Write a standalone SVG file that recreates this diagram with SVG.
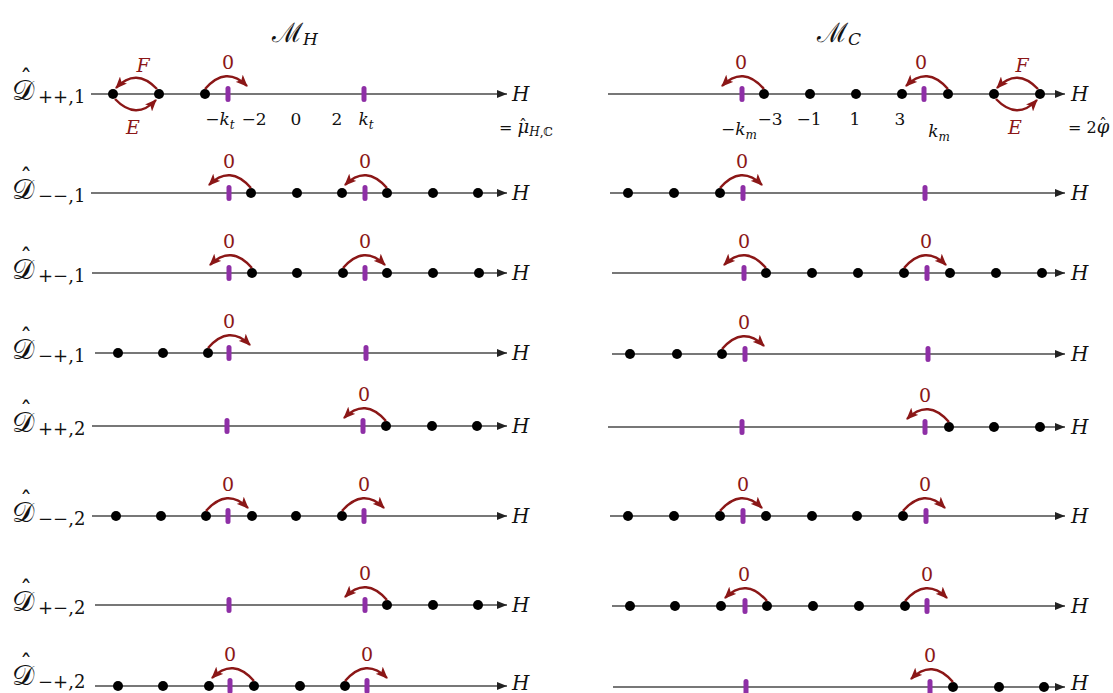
<svg xmlns="http://www.w3.org/2000/svg" width="1113" height="693" viewBox="0 0 1113 693">
<defs>
<marker id="ah" markerUnits="userSpaceOnUse" markerWidth="11" markerHeight="9" refX="10" refY="4" orient="auto"><path d="M0,0 L10,4 L0,8 z" fill="#222"/></marker>
<marker id="rh" markerUnits="userSpaceOnUse" markerWidth="13" markerHeight="10" refX="11" refY="5" orient="auto"><path d="M0,0 L12,5 L0,10 L3,5 z" fill="#8b1717"/></marker>
</defs>
<style>
.ax{stroke:#4a4a4a;stroke-width:1.4;fill:none;marker-end:url(#ah)}
.dot{fill:#000}
.tk{stroke:#8e2fa6;stroke-width:5;stroke-linecap:round}
.arc{fill:none;stroke:#8b1717;stroke-width:2.4;marker-end:url(#rh)}
text{font-family:"DejaVu Serif","Liberation Serif",serif}
.z{font-size:19px;fill:#8b1717;text-anchor:middle}
.lab{font-size:17px;fill:#111;text-anchor:middle}
.h{font-size:20px;font-style:italic;fill:#111}
.ef{font-size:19px;font-style:italic;fill:#8b1717;text-anchor:middle}
.dd{font-size:28px;fill:#111}
.hat{font-size:24px;fill:#111;text-anchor:middle}
.sub{font-size:18px;fill:#111}
.ttl{font-size:27px;fill:#111}
.it{font-style:italic}
.sm{font-size:12px}
</style>

<g id="titles">
<text class="ttl" x="272" y="42">ℳ<tspan class="it" font-size="17" dy="3">H</tspan></text>
<text class="ttl" x="817" y="42">ℳ<tspan class="it" font-size="17" dy="3">C</tspan></text>
</g>

<g id="row-labels">
<g id="lab-pp1"><text class="dd" x="12" y="100">𝒟</text><text class="hat" x="26" y="87">ˆ</text><text class="sub" x="38" y="103">++,1</text></g>
<g id="lab-mm1"><text class="dd" x="12" y="199">𝒟</text><text class="hat" x="26" y="186">ˆ</text><text class="sub" x="38" y="202">−−,1</text></g>
<g id="lab-pm1"><text class="dd" x="12" y="279">𝒟</text><text class="hat" x="26" y="266">ˆ</text><text class="sub" x="38" y="282">+−,1</text></g>
<g id="lab-mp1"><text class="dd" x="12" y="359">𝒟</text><text class="hat" x="26" y="346">ˆ</text><text class="sub" x="38" y="362">−+,1</text></g>
<g id="lab-pp2"><text class="dd" x="12" y="432">𝒟</text><text class="hat" x="26" y="419">ˆ</text><text class="sub" x="38" y="435">++,2</text></g>
<g id="lab-mm2"><text class="dd" x="12" y="522">𝒟</text><text class="hat" x="26" y="509">ˆ</text><text class="sub" x="38" y="525">−−,2</text></g>
<g id="lab-pm2"><text class="dd" x="12" y="611">𝒟</text><text class="hat" x="26" y="598">ˆ</text><text class="sub" x="38" y="614">+−,2</text></g>
<g id="lab-mp2"><text class="dd" x="12" y="685">𝒟</text><text class="hat" x="26" y="672">ˆ</text><text class="sub" x="38" y="688">−+,2</text></g>
</g>

<g id="axes">
<line class="ax" x1="91" y1="94" x2="507" y2="94"/>
<line class="ax" x1="91" y1="193" x2="507" y2="193"/>
<line class="ax" x1="92" y1="273" x2="507" y2="273"/>
<line class="ax" x1="95" y1="353" x2="507" y2="353"/>
<line class="ax" x1="92" y1="426" x2="507" y2="426"/>
<line class="ax" x1="92" y1="516" x2="507" y2="516"/>
<line class="ax" x1="95" y1="605" x2="507" y2="605"/>
<line class="ax" x1="95" y1="686" x2="507" y2="686"/>
<line class="ax" x1="608" y1="94" x2="1065" y2="94"/>
<line class="ax" x1="610" y1="193" x2="1065" y2="193"/>
<line class="ax" x1="612" y1="273" x2="1065" y2="273"/>
<line class="ax" x1="612" y1="354" x2="1065" y2="354"/>
<line class="ax" x1="608" y1="427" x2="1065" y2="427"/>
<line class="ax" x1="610" y1="516" x2="1065" y2="516"/>
<line class="ax" x1="612" y1="606" x2="1065" y2="606"/>
<line class="ax" x1="613" y1="687" x2="1065" y2="687"/>
</g>

<g id="axis-labels">
<text class="h" x="512" y="101">H</text>
<text class="h" x="512" y="200">H</text>
<text class="h" x="512" y="280">H</text>
<text class="h" x="512" y="360">H</text>
<text class="h" x="512" y="433">H</text>
<text class="h" x="512" y="523">H</text>
<text class="h" x="512" y="612">H</text>
<text class="h" x="512" y="690">H</text>
<text class="h" x="1071" y="101">H</text>
<text class="h" x="1071" y="200">H</text>
<text class="h" x="1071" y="280">H</text>
<text class="h" x="1071" y="361">H</text>
<text class="h" x="1071" y="434">H</text>
<text class="h" x="1071" y="523">H</text>
<text class="h" x="1071" y="613">H</text>
<text class="h" x="1071" y="690">H</text>
<text font-size="16" fill="#111" x="499" y="133">= <tspan font-style="italic" font-size="18">μ</tspan><tspan font-style="italic" font-size="12" dy="3">H</tspan><tspan font-size="12">,ℂ</tspan></text>
<text font-size="16" fill="#111" x="523" y="131" text-anchor="middle">ˆ</text>
<text font-size="16" fill="#111" x="1068" y="133">= 2<tspan font-style="italic" font-size="18">φ</tspan></text>
<text font-size="16" fill="#111" x="1103" y="130" text-anchor="middle">ˆ</text>
</g>

<g id="tick-labels">
<text class="lab" x="220" y="125">−<tspan class="it">k</tspan><tspan class="it sm" dy="4">t</tspan></text>
<text class="lab" x="254" y="125">−2</text>
<text class="lab" x="296" y="125">0</text>
<text class="lab" x="337" y="125">2</text>
<text class="lab" x="366" y="125"><tspan class="it">k</tspan><tspan class="it sm" dy="4">t</tspan></text>
<text class="lab" x="739" y="135">−<tspan class="it">k</tspan><tspan class="it sm" dy="4">m</tspan></text>
<text class="lab" x="770" y="125">−3</text>
<text class="lab" x="809" y="125">−1</text>
<text class="lab" x="855" y="125">1</text>
<text class="lab" x="900" y="125">3</text>
<text class="lab" x="939" y="137"><tspan class="it">k</tspan><tspan class="it sm" dy="4">m</tspan></text>
</g>

<g id="ticks">
<line class="tk" x1="228" y1="88.5" x2="228" y2="99.5"/><line class="tk" x1="364" y1="88.5" x2="364" y2="99.5"/>
<line class="tk" x1="229" y1="187.5" x2="229" y2="198.5"/><line class="tk" x1="365" y1="187.5" x2="365" y2="198.5"/>
<line class="tk" x1="229" y1="267.5" x2="229" y2="278.5"/><line class="tk" x1="365" y1="267.5" x2="365" y2="278.5"/>
<line class="tk" x1="229" y1="347.5" x2="229" y2="358.5"/><line class="tk" x1="366" y1="347.5" x2="366" y2="358.5"/>
<line class="tk" x1="227" y1="420.5" x2="227" y2="431.5"/><line class="tk" x1="363" y1="420.5" x2="363" y2="431.5"/>
<line class="tk" x1="228" y1="510.5" x2="228" y2="521.5"/><line class="tk" x1="364" y1="510.5" x2="364" y2="521.5"/>
<line class="tk" x1="229" y1="599.5" x2="229" y2="610.5"/><line class="tk" x1="365" y1="599.5" x2="365" y2="610.5"/>
<line class="tk" x1="230" y1="680.5" x2="230" y2="691.5"/><line class="tk" x1="367" y1="680.5" x2="367" y2="691.5"/>
<line class="tk" x1="742" y1="88.5" x2="742" y2="99.5"/><line class="tk" x1="924" y1="88.5" x2="924" y2="99.5"/>
<line class="tk" x1="743" y1="187.5" x2="743" y2="198.5"/><line class="tk" x1="925" y1="187.5" x2="925" y2="198.5"/>
<line class="tk" x1="744" y1="267.5" x2="744" y2="278.5"/><line class="tk" x1="927" y1="267.5" x2="927" y2="278.5"/>
<line class="tk" x1="745" y1="348.5" x2="745" y2="359.5"/><line class="tk" x1="928" y1="348.5" x2="928" y2="359.5"/>
<line class="tk" x1="742" y1="421.5" x2="742" y2="432.5"/><line class="tk" x1="925" y1="421.5" x2="925" y2="432.5"/>
<line class="tk" x1="743" y1="510.5" x2="743" y2="521.5"/><line class="tk" x1="926" y1="510.5" x2="926" y2="521.5"/>
<line class="tk" x1="745" y1="600.5" x2="745" y2="611.5"/><line class="tk" x1="927" y1="600.5" x2="927" y2="611.5"/>
<line class="tk" x1="746" y1="681.5" x2="746" y2="692.5"/><line class="tk" x1="930" y1="681.5" x2="930" y2="692.5"/>
</g>

<g id="dots" class="dot">
<circle cx="113" cy="94" r="5"/><circle cx="159" cy="94" r="5"/><circle cx="205" cy="94" r="5"/>
<circle cx="251" cy="193" r="5"/><circle cx="297" cy="193" r="5"/><circle cx="342" cy="193" r="5"/><circle cx="387" cy="193" r="5"/><circle cx="433" cy="193" r="5"/><circle cx="478" cy="193" r="5"/>
<circle cx="252" cy="273" r="5"/><circle cx="297" cy="273" r="5"/><circle cx="343" cy="273" r="5"/><circle cx="387" cy="273" r="5"/><circle cx="433" cy="273" r="5"/><circle cx="479" cy="273" r="5"/>
<circle cx="118" cy="353" r="5"/><circle cx="163" cy="353" r="5"/><circle cx="208" cy="353" r="5"/>
<circle cx="386" cy="426" r="5"/><circle cx="432" cy="426" r="5"/><circle cx="477" cy="426" r="5"/>
<circle cx="116" cy="516" r="5"/><circle cx="161" cy="516" r="5"/><circle cx="206" cy="516" r="5"/><circle cx="252" cy="516" r="5"/><circle cx="296" cy="516" r="5"/><circle cx="342" cy="516" r="5"/>
<circle cx="387" cy="605" r="5"/><circle cx="433" cy="605" r="5"/><circle cx="478" cy="605" r="5"/>
<circle cx="118" cy="686" r="5"/><circle cx="163" cy="686" r="5"/><circle cx="209" cy="686" r="5"/><circle cx="254" cy="686" r="5"/><circle cx="300" cy="686" r="5"/><circle cx="345" cy="686" r="5"/>
<circle cx="764" cy="94" r="5"/><circle cx="810" cy="94" r="5"/><circle cx="856" cy="94" r="5"/><circle cx="902" cy="94" r="5"/><circle cx="948" cy="94" r="5"/><circle cx="994" cy="94" r="5"/><circle cx="1040" cy="94" r="5"/>
<circle cx="628" cy="193" r="5"/><circle cx="674" cy="193" r="5"/><circle cx="720" cy="193" r="5"/>
<circle cx="766" cy="273" r="5"/><circle cx="812" cy="273" r="5"/><circle cx="858" cy="273" r="5"/><circle cx="904" cy="273" r="5"/><circle cx="950" cy="273" r="5"/><circle cx="996" cy="273" r="5"/><circle cx="1042" cy="273" r="5"/>
<circle cx="630" cy="354" r="5"/><circle cx="677" cy="354" r="5"/><circle cx="722" cy="354" r="5"/>
<circle cx="949" cy="427" r="5"/><circle cx="994" cy="427" r="5"/><circle cx="1040" cy="427" r="5"/>
<circle cx="628" cy="516" r="5"/><circle cx="674" cy="516" r="5"/><circle cx="720" cy="516" r="5"/><circle cx="766" cy="516" r="5"/><circle cx="812" cy="516" r="5"/><circle cx="857" cy="516" r="5"/><circle cx="903" cy="516" r="5"/>
<circle cx="630" cy="606" r="5"/><circle cx="675" cy="606" r="5"/><circle cx="721" cy="606" r="5"/><circle cx="767" cy="606" r="5"/><circle cx="813" cy="606" r="5"/><circle cx="859" cy="606" r="5"/><circle cx="905" cy="606" r="5"/>
<circle cx="953" cy="687" r="5"/><circle cx="999" cy="687" r="5"/><circle cx="1044" cy="687" r="5"/>
</g>

<g id="connectors">
<path class="arc" d="M157,89 Q136,67 116,88"/>
<path class="arc" d="M115,99 Q136,121 156,100"/>
<path class="arc" d="M205,89 Q226,65 247,86"/>
<path class="arc" d="M251,188 Q230,164 209,185"/>
<path class="arc" d="M387,188 Q366,164 345,185"/>
<path class="arc" d="M252,268 Q231,244 210,265"/>
<path class="arc" d="M343,268 Q364,244 385,265"/>
<path class="arc" d="M208,348 Q229,324 250,345"/>
<path class="arc" d="M386,421 Q365,397 344,418"/>
<path class="arc" d="M206,511 Q227,487 248,508"/>
<path class="arc" d="M342,511 Q363,487 384,508"/>
<path class="arc" d="M387,600 Q366,576 345,597"/>
<path class="arc" d="M254,681 Q233,657 212,678"/>
<path class="arc" d="M345,681 Q366,657 387,678"/>
<path class="arc" d="M764,89 Q743,65 722,86"/>
<path class="arc" d="M948,89 Q927,65 906,86"/>
<path class="arc" d="M1038,89 Q1017,67 997,88"/>
<path class="arc" d="M996,99 Q1017,121 1037,100"/>
<path class="arc" d="M720,188 Q741,164 762,185"/>
<path class="arc" d="M766,268 Q745,244 724,265"/>
<path class="arc" d="M904,268 Q925,244 946,265"/>
<path class="arc" d="M722,349 Q743,325 764,346"/>
<path class="arc" d="M949,422 Q928,398 907,419"/>
<path class="arc" d="M720,511 Q741,487 762,508"/>
<path class="arc" d="M903,511 Q924,487 945,508"/>
<path class="arc" d="M767,601 Q746,577 725,598"/>
<path class="arc" d="M905,601 Q926,577 947,598"/>
<path class="arc" d="M953,682 Q932,658 911,679"/>
</g>

<g id="arc-labels">
<text class="ef" x="143" y="72">F</text>
<text class="ef" x="133" y="134">E</text>
<text class="ef" x="1022" y="72">F</text>
<text class="ef" x="1015" y="134">E</text>
<text class="z" x="228" y="69">0</text>
<text class="z" x="229" y="168">0</text><text class="z" x="365" y="168">0</text>
<text class="z" x="229" y="248">0</text><text class="z" x="365" y="248">0</text>
<text class="z" x="229" y="328">0</text>
<text class="z" x="364" y="401">0</text>
<text class="z" x="228" y="491">0</text><text class="z" x="364" y="491">0</text>
<text class="z" x="365" y="580">0</text>
<text class="z" x="230" y="661">0</text><text class="z" x="367" y="661">0</text>
<text class="z" x="741" y="69">0</text><text class="z" x="921" y="69">0</text>
<text class="z" x="742" y="168">0</text>
<text class="z" x="744" y="248">0</text><text class="z" x="926" y="248">0</text>
<text class="z" x="744" y="329">0</text>
<text class="z" x="925" y="402">0</text>
<text class="z" x="743" y="491">0</text><text class="z" x="925" y="491">0</text>
<text class="z" x="744" y="581">0</text><text class="z" x="927" y="581">0</text>
<text class="z" x="930" y="662">0</text>
</g>
</svg>
